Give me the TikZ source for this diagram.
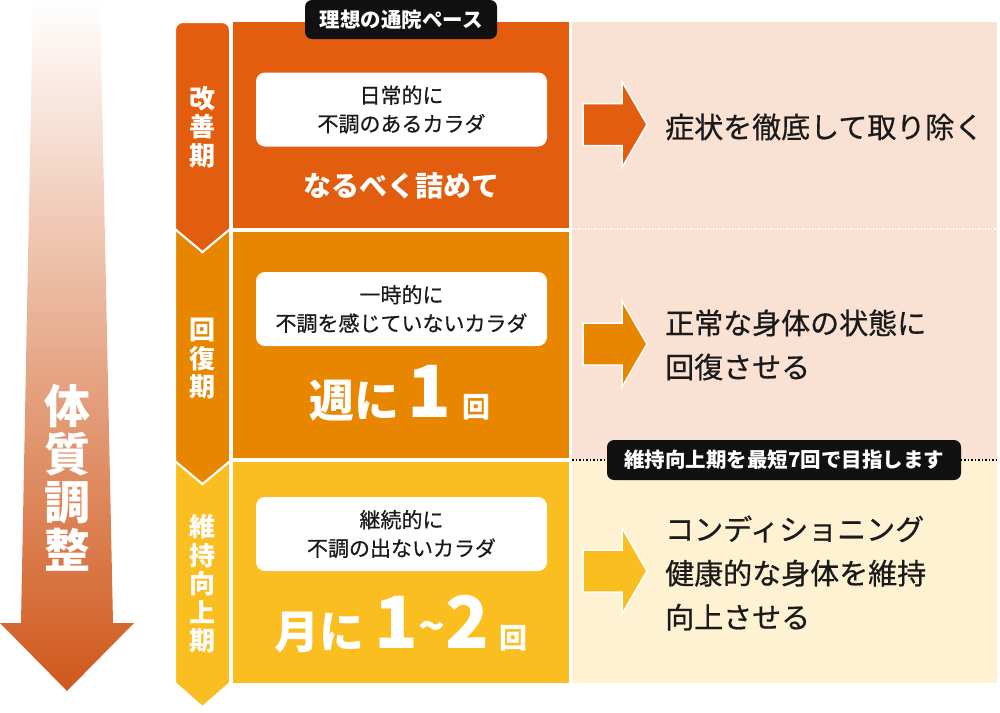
\documentclass[tikz,border=0pt]{standalone}
\usepackage{fontspec}
\newfontfamily\jp{Noto Sans CJK JP}
\newfontfamily\jpm{Noto Sans CJK JP}[FakeBold=0.6]
\definecolor{cA}{HTML}{E25E0E}
\definecolor{cB}{HTML}{E88600}
\definecolor{cC}{HTML}{FBBE20}
\definecolor{pinkbg}{HTML}{F9E1D3}
\definecolor{creambg}{HTML}{FFF2D3}
\definecolor{arrowbot}{HTML}{D0581C}
\definecolor{arrowmid}{HTML}{E4A27A}
\definecolor{txt}{HTML}{1A1A1A}
\definecolor{lab}{HTML}{111111}
\tikzset{
  phasebox/.style={draw=white, line width=2pt},
  phasetext/.style={text=white, align=center, font=\jp\bfseries\fontsize{26}{28.5}\selectfont},
  wbox/.style={fill=white, rounded corners=9pt, minimum width=291pt, minimum height=74pt, align=center, text=txt, font=\jpm\fontsize{21}{28.5}\selectfont},
  bigtext/.style={text=white, font=\jp\bfseries},
  rarrow/.style={draw=white, line width=1.5pt},
  rtext/.style={anchor=west, align=left, text=txt, font=\jpm\fontsize{29}{44}\selectfont},
  blabel/.style={fill=lab, rounded corners=7pt, text=white, font=\jp\bfseries\fontsize{20.5}{21}\selectfont},
}
\begin{document}
\begin{tikzpicture}[x=1pt,y=-1pt, every node/.style={inner sep=0pt}]
\useasboundingbox (0,0) rectangle (1000,712);

% big gradient arrow
\shade[top color=white, middle color=arrowmid, bottom color=arrowbot]
  (33,0) -- (100,0) -- (113,623) -- (134,623) -- (67,691) -- (0,623) -- (21,623) -- cycle;
\node[bigtext, align=center, font=\jp\bfseries\fontsize{46}{48}\selectfont] (taishitsu) at (67,478) {体\\質\\調\\整};

% phase column
\draw[phasebox, fill=cC] (175,461) -- (202.5,484) -- (230,461) -- (230,683) -- (202.5,707) -- (175,683) -- cycle;
\draw[phasebox, fill=cB] (175,229) -- (202.5,252) -- (230,229) -- (230,461) -- (202.5,484) -- (175,461) -- cycle;
\draw[phasebox, fill=cA] (202.5,252) -- (175,229) -- (175,30)
  arc[start angle=180, end angle=90, radius=8pt] -- (222,22)
  arc[start angle=90, end angle=0, radius=8pt] -- (230,229) -- cycle;
\node[phasetext] (p1) at (202.5,127) {改\\善\\期};
\node[phasetext] (p2) at (202.5,359) {回\\復\\期};
\node[phasetext] (p3) at (202.5,584) {維\\持\\向\\上\\期};

% main rows
\fill[cA] (233,22) rectangle (569,228);
\fill[cB] (233,232) rectangle (569,458);
\fill[cC] (233,462) rectangle (569,683);

% right panel
\fill[pinkbg] (572,22) rectangle (997,460);
\fill[creambg] (572,460) rectangle (997,683);
\draw[white, dotted, line width=1.2pt] (572,229) -- (997,229);
\draw[black, dotted, line width=1.5pt] (572,460) -- (997,460);

% white boxes
\node[wbox] (b1) at (401.5,109.5) {日常的に\\不調のあるカラダ};
\node[wbox] (b2) at (401.5,309) {一時的に\\不調を感じていないカラダ};
\node[wbox] (b3) at (401.5,534) {継続的に\\不調の出ないカラダ};

% frequency texts
\node[bigtext, font=\jp\bfseries\fontsize{28}{28}\selectfont] (f1) at (401,186) {なるべく詰めて};
\node[bigtext, anchor=base] (f2) at (400,417)
  {{\fontsize{45}{45}\selectfont 週に}\kern8pt{\fontsize{72}{72}\selectfont 1}\kern12pt{\fontsize{28}{28}\selectfont 回}};
\node[bigtext, anchor=base] (f3) at (401,648)
  {{\fontsize{45}{45}\selectfont 月に}\kern10pt{\fontsize{72}{72}\selectfont 1}{\fontsize{44}{44}\selectfont\raisebox{6pt}{\textasciitilde}}{\fontsize{72}{72}\selectfont 2}\kern10pt{\fontsize{28}{28}\selectfont 回}};

% right arrows
\draw[rarrow, fill=cA, shift={(0,124.5)}] (583,-21) -- (622,-21) -- (622,-43) -- (647,0) -- (622,43) -- (622,21) -- (583,21) -- cycle;
\draw[rarrow, fill=cB, shift={(0,344)}] (583,-21) -- (622,-21) -- (622,-43) -- (647,0) -- (622,43) -- (622,21) -- (583,21) -- cycle;
\draw[rarrow, fill=cC, shift={(0,571)}] (583,-21) -- (622,-21) -- (622,-43) -- (647,0) -- (622,43) -- (622,21) -- (583,21) -- cycle;

% right texts
\node[rtext] (t1) at (665,127) {症状を徹底して取り除く};
\node[rtext] (t2) at (665,345) {正常な身体の状態に\\回復させる};
\node[rtext] (t3) at (665,573) {コンディショニング\\健康的な身体を維持\\向上させる};

% black labels
\node[blabel, minimum width=192pt, minimum height=39pt] (lab1) at (401,19.5) {理想の通院ペース};
\node[blabel, minimum width=354pt, minimum height=40pt] (lab2) at (784,460) {維持向上期を最短7回で目指します};
\end{tikzpicture}
\end{document}
